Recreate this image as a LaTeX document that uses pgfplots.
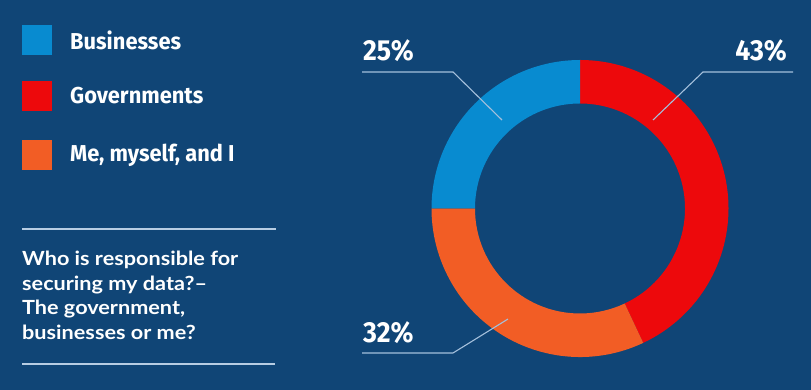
\documentclass[border=0pt]{standalone}
\usepackage{pgfplots}
\pgfplotsset{compat=1.18}
\usepackage{pgfplotstable}
\usepackage{fontspec}
\setmainfont{Lato}[FakeStretch=1.11]
\newfontfamily\pctfont{Fira Sans}[FakeStretch=0.92]
\newfontfamily\legfont{Fira Sans}[FakeStretch=0.95]
\definecolor{bgc}{RGB}{16,69,118}
\definecolor{cblue}{RGB}{8,139,208}
\definecolor{cred}{RGB}{237,9,12}
\definecolor{corange}{RGB}{242,93,37}
\definecolor{cline}{RGB}{165,192,220}
\pgfplotstableread{
label value
Governments 43
Me 32
Businesses 25
}\donutdata
\begin{document}
\begin{tikzpicture}
\pgfplotstablegetelem{0}{value}\of\donutdata \let\vA\pgfplotsretval
\pgfplotstablegetelem{1}{value}\of\donutdata \let\vB\pgfplotsretval
\pgfplotstablegetelem{2}{value}\of\donutdata \let\vC\pgfplotsretval
\pgfmathsetmacro\aA{90}
\pgfmathsetmacro\aB{90-3.6*\vA}
\pgfmathsetmacro\aC{\aB-3.6*\vB}
\pgfmathsetmacro\aD{\aC-3.6*\vC}
\begin{axis}[x=1pt, y=1pt, xmin=0, xmax=811, ymin=0, ymax=390,
  hide axis, clip=false]
\fill[bgc] (axis cs:0,0) rectangle (axis cs:811,390);
% donut
\fill[cred, shift={(axis cs:580,181.5)}] (\aA:148.5pt) arc[start angle=\aA, end angle=\aB, radius=148.5pt] -- (\aB:105pt) arc[start angle=\aB, end angle=\aA, radius=105pt] -- cycle;
\fill[corange, shift={(axis cs:580,181.5)}] (\aB:148.5pt) arc[start angle=\aB, end angle=\aC, radius=148.5pt] -- (\aC:105pt) arc[start angle=\aC, end angle=\aB, radius=105pt] -- cycle;
\fill[cblue, shift={(axis cs:580,181.5)}] (\aC:148.5pt) arc[start angle=\aC, end angle=\aD, radius=148.5pt] -- (\aD:105pt) arc[start angle=\aD, end angle=\aC, radius=105pt] -- cycle;
% leader lines
\draw[cline, line width=1.1pt] (axis cs:362,318) -- (axis cs:453,318) -- (axis cs:502,270);
\draw[cline, line width=1.1pt] (axis cs:793,318) -- (axis cs:703,318) -- (axis cs:653,270);
\draw[cline, line width=1.1pt] (axis cs:362,37) -- (axis cs:453,37) -- (axis cs:508,71);
% percent labels
\node[anchor=base west, inner sep=0pt, white] at (axis cs:363,329) {\pctfont\bfseries\fontsize{29}{29}\selectfont 25\%};
\node[anchor=base east, inner sep=0pt, white] at (axis cs:787,329) {\pctfont\bfseries\fontsize{29}{29}\selectfont 43\%};
\node[anchor=base west, inner sep=0pt, white] at (axis cs:363,47) {\pctfont\bfseries\fontsize{29}{29}\selectfont 32\%};
% legend
\fill[cblue] (axis cs:22,335) rectangle (axis cs:52,365);
\fill[cred] (axis cs:22,279) rectangle (axis cs:52,309);
\fill[corange] (axis cs:22,220) rectangle (axis cs:52,250);
\node[anchor=west, inner sep=0pt, white] at (axis cs:70,350) {\legfont\bfseries\fontsize{23}{23}\selectfont Businesses};
\node[anchor=west, inner sep=0pt, white] at (axis cs:70,294) {\legfont\bfseries\fontsize{23}{23}\selectfont Governments};
\node[anchor=west, inner sep=0pt, white] at (axis cs:70,235) {\legfont\bfseries\fontsize{23}{23}\selectfont Me, myself, and I};
% dividers
\draw[cline!80!white, line width=1.2pt] (axis cs:22,161) -- (axis cs:276,161);
\draw[cline!80!white, line width=1.2pt] (axis cs:22,26) -- (axis cs:275,26);
% question
\node[anchor=base west, inner sep=0pt, white] at (axis cs:22,124) {\bfseries\fontsize{19.5}{24}\selectfont Who is responsible for};
\node[anchor=base west, inner sep=0pt, white] at (axis cs:22,99.5) {\bfseries\fontsize{19.5}{24}\selectfont securing my data?--};
\node[anchor=base west, inner sep=0pt, white] at (axis cs:22,75) {\bfseries\fontsize{19.5}{24}\selectfont The government,};
\node[anchor=base west, inner sep=0pt, white] at (axis cs:22,50.5) {\bfseries\fontsize{19.5}{24}\selectfont businesses or me?};
\end{axis}
\end{tikzpicture}
\end{document}
